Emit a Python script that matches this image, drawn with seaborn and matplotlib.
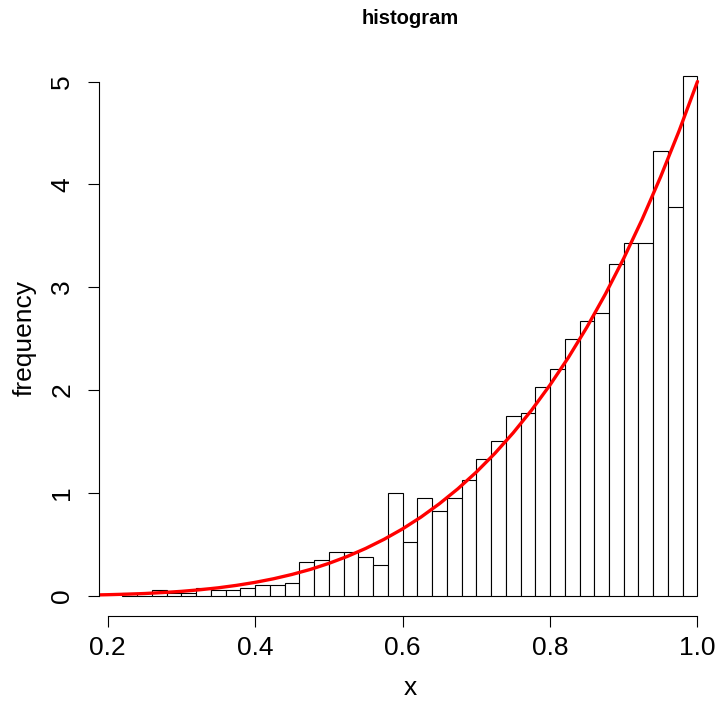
import numpy as np
import pandas as pd
import seaborn as sns
import matplotlib
matplotlib.use('Agg')
from matplotlib import pyplot as plt

# histogram bins (left edges, width 0.02) and density heights
bin_left = [0.22, 0.24, 0.26, 0.28, 0.30, 0.32, 0.34, 0.36, 0.38, 0.40,
            0.42, 0.44, 0.46, 0.48, 0.50, 0.52, 0.54, 0.56, 0.58, 0.60,
            0.62, 0.64, 0.66, 0.68, 0.70, 0.72, 0.74, 0.76, 0.78, 0.80,
            0.82, 0.84, 0.86, 0.88, 0.90, 0.92, 0.94, 0.96, 0.98]
bin_right = 1.00
density = [0.025, 0.0, 0.05, 0.025, 0.025, 0.075, 0.05, 0.05, 0.075, 0.1,
           0.1, 0.125, 0.325, 0.35, 0.425, 0.425, 0.375, 0.3, 1.0, 0.525,
           0.95, 0.825, 0.95, 1.125, 1.325, 1.5, 1.75, 1.775, 2.025, 2.2,
           2.5, 2.675, 2.75, 3.225, 3.425, 3.425, 4.325, 3.775, 5.05]

# red density curve
curve_x = [0.19, 0.2, 0.225, 0.25, 0.275, 0.3, 0.325, 0.35, 0.375, 0.4,
           0.425, 0.45, 0.475, 0.5, 0.525, 0.55, 0.575, 0.6, 0.625, 0.65,
           0.675, 0.7, 0.725, 0.75, 0.775, 0.8, 0.825, 0.85, 0.875, 0.9,
           0.925, 0.95, 0.975, 1.0]
curve_y = [0.0065, 0.008, 0.013, 0.0195, 0.029, 0.0405, 0.056, 0.075, 0.099, 0.128,
           0.163, 0.205, 0.254, 0.3125, 0.38, 0.458, 0.547, 0.648, 0.763, 0.893,
           1.038, 1.2, 1.381, 1.582, 1.803, 2.048, 2.316, 2.61, 2.931, 3.28,
           3.66, 4.073, 4.519, 5.0]

x_ticks = [0.2, 0.4, 0.6, 0.8, 1.0]
y_ticks = [0, 1, 2, 3, 4, 5]

sns.set_style('white')
plt.rcParams['font.family'] = ['Liberation Sans', 'DejaVu Sans']
plt.rcParams['text.color'] = 'black'
plt.rcParams['axes.labelcolor'] = 'black'

df = pd.DataFrame({'x': [b + 0.01 for b in bin_left], 'density': density})
edges = bin_left + [bin_right]

fig = plt.figure(figsize=(7.17, 7.02), dpi=100)
ax = fig.add_axes([99.3 / 717, 1 - 616.3 / 702, 621.2 / 717, 560.7 / 702])

sns.histplot(data=df, x='x', weights='density', bins=edges, stat='count',
             color='white', edgecolor='black', linewidth=0.8, alpha=1, ax=ax)
sns.lineplot(x=curve_x, y=curve_y, color='red', linewidth=2.4, ax=ax)

ymax = max(density)
span = bin_right - bin_left[0]
ax.set_xlim(bin_left[0] - 0.04 * span, bin_right + 0.04 * span)
ax.set_ylim(-0.04 * ymax, ymax * 1.04)

ax.set_xticks(x_ticks)
ax.set_xticklabels(['0.2', '0.4', '0.6', '0.8', '1.0'])
ax.set_yticks(y_ticks)
ax.set_yticklabels([str(v) for v in y_ticks], rotation=90, va='center')
ax.tick_params(axis='both', direction='out', length=8, width=0.8, labelsize=19,
               colors='black', labelcolor='black', bottom=True, left=True)
ax.tick_params(axis='x', pad=6)
ax.tick_params(axis='y', pad=10)

for s in ['top', 'right']:
    ax.spines[s].set_visible(False)
ax.spines['bottom'].set_bounds(0.2, 1.0)
ax.spines['left'].set_bounds(0, 5)
for s in ['bottom', 'left']:
    ax.spines[s].set_color('black')
    ax.spines[s].set_linewidth(0.8)

ax.set_xlabel('x', fontsize=19, color='black')
ax.set_ylabel('frequency', fontsize=19, color='black')
ax.xaxis.label.set_va('center')
ax.yaxis.label.set_va('center')
ax.xaxis.set_label_coords((410 - 99.3) / 621.2, (616.3 - 688) / 560.7)
ax.yaxis.set_label_coords((25 - 99.3) / 621.2, (616.3 - 338) / 560.7)

fig.text(410 / 717, 1 - 18 / 702, 'histogram', ha='center', va='center',
         fontsize=14.5, fontweight='bold', color='black')

fig.savefig('out.png', dpi=100)
